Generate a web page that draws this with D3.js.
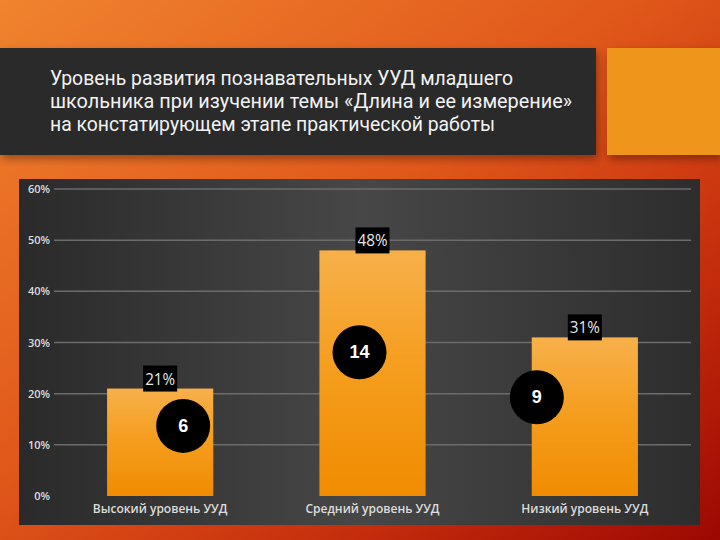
<!DOCTYPE html>
<html><head><meta charset="utf-8">
<script src="https://cdn.jsdelivr.net/npm/d3@7"></script>
<style>html,body{margin:0;padding:0;background:#fff}svg{display:block}</style>
</head><body>
<script>
const categories = ["Высокий уровень УУД", "Средний уровень УУД", "Низкий уровень УУД"];
const percentValues = [21, 48, 31];
const countValues = [6, 14, 9];
const yTicks = [0, 10, 20, 30, 40, 50, 60];
const titleLines = [
  "Уровень развития познавательных УУД младшего",
  "школьника при изучении темы «Длина и ее измерение»",
  "на констатирующем этапе практической работы"
];
const titleWidths = [463, 522, 445];
// annotation circle placement (offset from band centre in px, height in % units)
const circleDx = [23, -13, -48];
const circleAt = [13.7, 28.1, 19.3];

const W = 720, H = 540;
const svg = d3.select("body").append("svg").attr("width", W).attr("height", H);
const defs = svg.append("defs");

const bg = defs.append("linearGradient").attr("id","bg").attr("x1","0").attr("y1","0").attr("x2","1").attr("y2","1");
bg.append("stop").attr("offset","0").attr("stop-color","#f0832e");
bg.append("stop").attr("offset","0.45").attr("stop-color","#e0571a");
bg.append("stop").attr("offset","0.75").attr("stop-color","#c42c0c");
bg.append("stop").attr("offset","1").attr("stop-color","#9c0802");

const panel = defs.append("linearGradient").attr("id","panel").attr("x1","0").attr("y1","0").attr("x2","1").attr("y2","0");
panel.append("stop").attr("offset","0").attr("stop-color","#2a2a2a");
panel.append("stop").attr("offset","0.5").attr("stop-color","#474747");
panel.append("stop").attr("offset","1").attr("stop-color","#2d2d2d");

const barG = defs.append("linearGradient").attr("id","bar").attr("x1","0").attr("y1","0").attr("x2","0").attr("y2","1");
barG.append("stop").attr("offset","0").attr("stop-color","#f7b04a");
barG.append("stop").attr("offset","0.45").attr("stop-color","#f59e20");
barG.append("stop").attr("offset","1").attr("stop-color","#f08c00");

const sh = defs.append("filter").attr("id","sh").attr("x","-10%").attr("y","-10%").attr("width","130%").attr("height","140%");
sh.append("feDropShadow").attr("dx",2).attr("dy",4).attr("stdDeviation",4).attr("flood-color","#000").attr("flood-opacity",0.35);

svg.append("rect").attr("width",W).attr("height",H).attr("fill","url(#bg)");

// title box and accent square
svg.append("rect").attr("x",0).attr("y",48).attr("width",596).attr("height",107).attr("fill","#2b2b2b").attr("filter","url(#sh)");
svg.append("rect").attr("x",607).attr("y",48).attr("width",113).attr("height",107).attr("fill","#f0951e").attr("filter","url(#sh)");

svg.append("g").selectAll("text").data(titleLines).join("text")
  .attr("x",50).attr("y",(d,i)=>85+i*23)
  .attr("fill","#f2f2f2").attr("font-family","Roboto, sans-serif").attr("font-size",19.5)
  .attr("textLength",(d,i)=>titleWidths[i]).attr("lengthAdjust","spacingAndGlyphs")
  .text(d=>d);

// chart panel
svg.append("rect").attr("x",19).attr("y",179).attr("width",681).attr("height",346).attr("fill","url(#panel)");

const x = d3.scaleBand().domain(categories).range([54,691]).paddingInner(0.5).paddingOuter(0.25);
const y = d3.scaleLinear().domain([0,60]).range([496,189]);

const grid = svg.append("g");
grid.selectAll("line").data(yTicks.filter(t=>t>0)).join("line")
  .attr("x1",54).attr("x2",691).attr("y1",d=>y(d)).attr("y2",d=>y(d))
  .attr("stroke","#6c6c6c").attr("stroke-width",1.5);

const yAxis = svg.append("g").attr("transform","translate(50,0)")
  .call(d3.axisLeft(y).tickValues(yTicks).tickFormat(d=>d+"%").tickSize(0).tickPadding(0));
yAxis.select(".domain").remove();
yAxis.selectAll("text").attr("fill","#dcdcdc").attr("font-family","'Open Sans', sans-serif")
  .attr("font-size",11).attr("font-weight",600);

const xAxis = svg.append("g").attr("transform","translate(0,496)")
  .call(d3.axisBottom(x).tickSize(0).tickPadding(8));
xAxis.select(".domain").remove();
xAxis.selectAll("text").attr("fill","#dcdcdc").attr("font-family","'Open Sans', sans-serif")
  .attr("font-size",12).attr("font-weight",600);

const data = categories.map((c,i)=>({c, v:percentValues[i], n:countValues[i], dx:circleDx[i], cy:circleAt[i]}));

svg.append("g").selectAll("rect").data(data).join("rect")
  .attr("x",d=>x(d.c)).attr("y",d=>y(d.v)).attr("width",x.bandwidth()).attr("height",d=>y(0)-y(d.v))
  .attr("fill","url(#bar)");

const lbl = svg.append("g").selectAll("g").data(data).join("g")
  .attr("transform",d=>`translate(${x(d.c)+x.bandwidth()/2},${y(d.v)})`);
lbl.append("rect").attr("x",-17).attr("y",-23).attr("width",34).attr("height",26).attr("fill","#000");
lbl.append("text").attr("x",0).attr("y",-4).attr("text-anchor","middle")
  .attr("fill","#e8e8e8").attr("font-family","'Open Sans', sans-serif").attr("font-size",17)
  .attr("textLength",30).attr("lengthAdjust","spacingAndGlyphs")
  .text(d=>d.v+"%");

const circ = svg.append("g").selectAll("g").data(data).join("g")
  .attr("transform",d=>`translate(${x(d.c)+x.bandwidth()/2+d.dx},${y(d.cy)})`);
circ.append("circle").attr("r",27).attr("fill","#000");
circ.append("text").attr("y",6).attr("text-anchor","middle").attr("fill","#fff")
  .attr("font-family","'Liberation Sans', Arial, sans-serif").attr("font-weight","bold").attr("font-size",18)
  .text(d=>d.n);
</script>
</body></html>
